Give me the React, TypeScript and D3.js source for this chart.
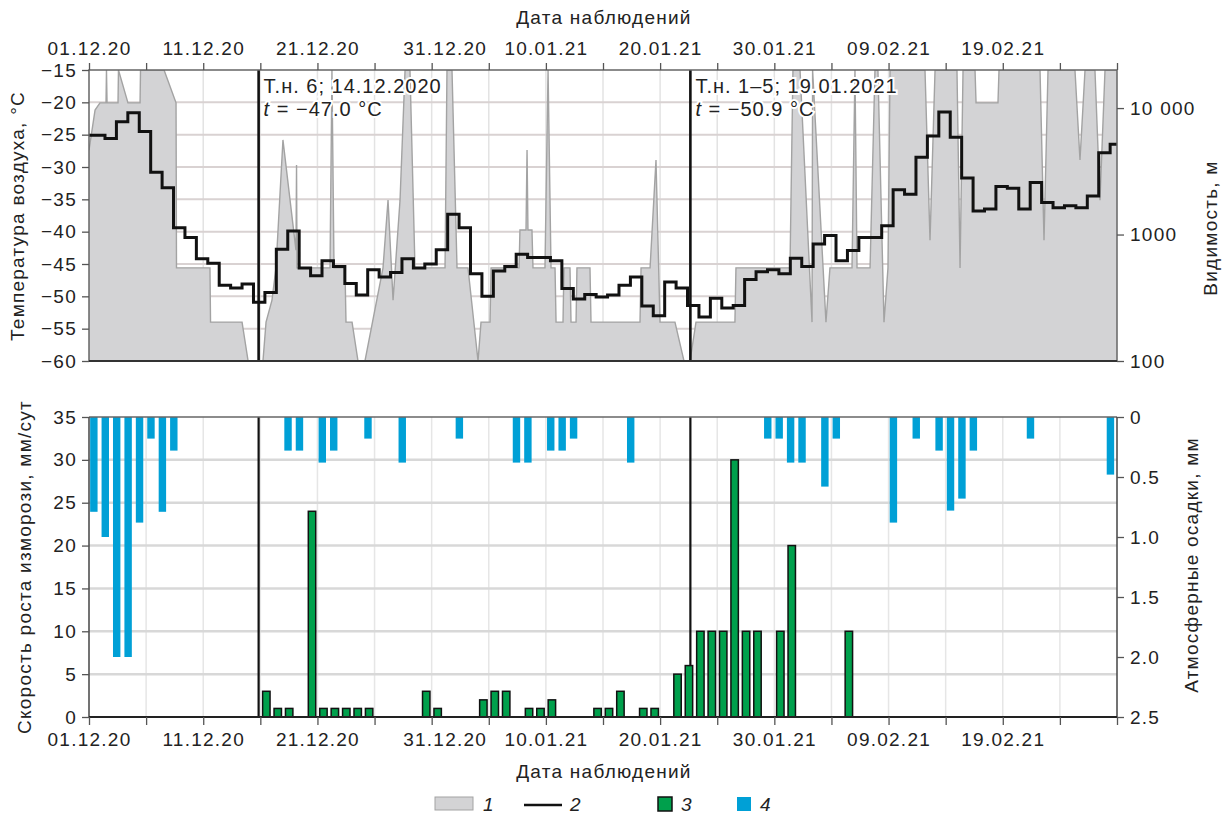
import React, { useEffect, useRef } from "react";
import * as d3 from "d3";

// days are counted from 01.12.2020 (day 0) to 01.03.2021 (day 90)
const dateLabels = ["01.12.20", "11.12.20", "21.12.20", "31.12.20", "10.01.21", "20.01.21", "30.01.21", "09.02.21", "19.02.21"];
const tempTicks = [-15, -20, -25, -30, -35, -40, -45, -50, -55, -60];
const visTicks = [100, 1000, 10000];
const frostTicks = [0, 5, 10, 15, 20, 25, 30, 35];
const precipTicks = [0, 0.5, 1.0, 1.5, 2.0, 2.5];

// air temperature, daily steps (first step starts at day 0, next ones at day i + 0.4)
const tempValues = [
  -25.1, -25.6, -23.0, -21.6, -24.5, -30.8, -33.2, -39.4, -40.9, -44.2,
  -44.9, -48.3, -48.7, -48.1, -50.9, -49.4, -42.7, -39.9, -45.6, -46.8,
  -44.5, -45.4, -48.0, -49.8, -45.9, -47.0, -46.3, -44.2, -45.6, -45.0,
  -42.8, -37.3, -39.4, -46.5, -50.0, -46.1, -45.4, -43.5, -44.0, -44.0,
  -44.5, -48.8, -50.4, -49.7, -50.1, -49.8, -48.3, -47.0, -51.5, -53.0,
  -47.8, -48.7, -51.4, -53.2, -50.3, -51.8, -51.4, -47.4, -46.2, -45.9,
  -46.5, -44.1, -45.4, -41.9, -40.6, -44.5, -42.9, -40.9, -40.9, -39.1,
  -33.5, -34.2, -28.5, -25.2, -21.5, -25.4, -31.7, -36.8, -36.5, -33.0,
  -33.3, -36.5, -32.4, -35.5, -36.3, -36.0, -36.3, -34.5, -27.8, -26.5,
];

// visibility, m (observation day, value)
const visDays = [
  0, 0.53, 0.96, 1.49, 1.53, 1.58, 2.54, 2.58, 3.41, 4.47,
  4.51, 6.57, 7.62, 7.66, 10.59, 10.64, 13.4, 13.93, 15.23, 15.5,
  16.02, 16.37, 16.98, 18.12, 18.17, 18.21, 21.1, 21.27, 21.45, 22.41,
  22.5, 23.03, 23.55, 24.16, 25.74, 26.18, 26.62, 27.23, 27.67, 28.1,
  28.54, 31.17, 31.34, 31.78, 32.22, 33.18, 34.06, 34.32, 35.11, 35.2,
  37.65, 37.73, 38.26, 38.35, 38.43, 38.78, 38.87, 39.92, 40.19, 40.45,
  40.8, 40.89, 41.5, 41.58, 42.11, 42.2, 42.64, 42.72, 43.86, 43.95,
  48.24, 48.33, 49.12, 49.64, 49.99, 51.3, 52.09, 52.62, 53.14, 56.55,
  56.64, 61.37, 61.63, 62.25, 63.3, 63.35, 64.52, 64.87, 66.8, 67.06,
  67.24, 68.38, 68.81, 69.07, 69.6, 69.95, 70.13, 73.19, 73.63, 74.07,
  75.99, 76.26, 76.52, 77.57, 77.66, 79.58, 79.67, 83.26, 83.61, 83.96,
  86.32, 86.76, 87.2, 88.07, 88.51, 88.95, 90,
];
const visValues = [
  4650, 9650, 11000, 11000, 20000, 11000, 11000, 20000, 11000, 11000,
  20000, 20000, 11000, 545, 545, 203, 203, 100, 100, 203,
  303, 545, 5600, 754, 3540, 545, 545, 20000, 545, 545,
  203, 203, 100, 100, 545, 1870, 303, 1870, 20000, 20000,
  545, 545, 20000, 20000, 545, 545, 100, 203, 203, 545,
  545, 1085, 1085, 4650, 1085, 1085, 545, 545, 20000, 545,
  545, 203, 203, 545, 545, 203, 203, 545, 545, 203,
  203, 545, 545, 3880, 203, 203, 100, 100, 203, 203,
  545, 545, 20000, 20000, 203, 20000, 203, 545, 545, 20000,
  545, 545, 20000, 20000, 203, 545, 20000, 20000, 900, 20000,
  20000, 545, 20000, 20000, 11000, 11000, 20000, 20000, 900, 20000,
  20000, 3880, 20000, 20000, 1870, 20000, 20000,
];

// rime growth rate, mm/day
const frostDays = [15, 16, 17, 19, 20, 21, 22, 23, 24, 29, 30, 34, 35, 36, 38, 39, 40, 44, 45, 46, 48, 49, 51, 52, 53, 54, 55, 56, 57, 58, 60, 61, 66];
const frostValues = [3, 1, 1, 24, 1, 1, 1, 1, 1, 3, 1, 2, 3, 3, 1, 1, 2, 1, 1, 3, 1, 1, 5, 6, 10, 10, 10, 30, 10, 10, 10, 20, 10];

// precipitation, mm
const precipDays = [0, 1, 2, 3, 4, 5, 6, 7, 17, 18, 20, 21, 24, 27, 32, 37, 38, 40, 41, 42, 47, 59, 60, 61, 62, 64, 65, 70, 72, 74, 75, 76, 77, 82, 89];
const precipValues = [0.79, 1.0, 2.0, 2.0, 0.88, 0.18, 0.79, 0.28, 0.28, 0.28, 0.38, 0.28, 0.18, 0.38, 0.18, 0.38, 0.38, 0.28, 0.28, 0.18, 0.38, 0.18, 0.18, 0.38, 0.38, 0.58, 0.18, 0.88, 0.18, 0.28, 0.78, 0.68, 0.28, 0.18, 0.48];

const eventDays = [14.85, 52.65];
const eventTitles = ["Т.н. 6; 14.12.2020", "Т.н. 1–5; 19.01.2021"];
const eventTemps = ["−47.0", "−50.9"];

const FONT = "'Liberation Sans', Arial, Helvetica, sans-serif";
const LS = 1.25;

export default function App() {
  const ref = useRef<SVGSVGElement>(null);

  useEffect(() => {
    const svg = d3.select(ref.current);
    svg.selectAll("*").remove();
    svg.attr("font-family", FONT);

    const L = 89, R = 1117;
    const x = d3.scaleLinear().domain([0, 90]).range([L, R]);
    const yT = d3.scaleLinear().domain([-60, -15]).range([361, 70]);
    const yV = d3.scaleLog().domain([100, 20000]).range([361, 70]).clamp(true);
    const yF = d3.scaleLinear().domain([0, 35]).range([717, 417]);
    const yP = d3.scaleLinear().domain([0, 2.5]).range([417, 717]);

    svg.append("defs").append("clipPath").attr("id", "clipTop")
      .append("rect").attr("x", L).attr("y", yT(-15)).attr("width", R - L).attr("height", yT(-60) - yT(-15));

    const fives = d3.range(5, 90, 5);
    const label = (sel: d3.Selection<SVGTextElement, unknown, null, undefined>, size = 19) =>
      sel.attr("font-size", size).attr("fill", "#222").attr("letter-spacing", LS);

    // ---------- top panel ----------
    const top = svg.append("g");
    top.selectAll(".vg").data(fives).join("line")
      .attr("x1", (d) => x(d)).attr("x2", (d) => x(d))
      .attr("y1", yT(-15)).attr("y2", yT(-60))
      .attr("stroke", "#e3e3e3").attr("stroke-width", 1.5);
    top.selectAll(".hg").data(tempTicks.slice(1, -1)).join("line")
      .attr("x1", L).attr("x2", R)
      .attr("y1", (d) => yT(d)).attr("y2", (d) => yT(d))
      .attr("stroke", "#d9d2d2").attr("stroke-width", 2);

    const visData = visDays.map((d, i) => ({ d, v: visValues[i] }));
    const area = d3.area<{ d: number; v: number }>()
      .x((p) => x(p.d)).y0(yT(-60)).y1((p) => yV(p.v));
    const line = d3.line<{ d: number; v: number }>()
      .x((p) => x(p.d)).y((p) => yV(p.v));
    const visG = top.append("g").attr("clip-path", "url(#clipTop)");
    visG.append("path").datum(visData).attr("d", area).attr("fill", "#d3d3d5");
    visG.append("path").datum(visData).attr("d", line)
      .attr("fill", "none").attr("stroke", "#a3a3a3").attr("stroke-width", 1.4);

    const tempData = tempValues.map((v, i) => ({ d: i === 0 ? 0 : i + 0.4, v }));
    tempData.push({ d: 90, v: tempValues[tempValues.length - 1] });
    top.append("path").datum(tempData)
      .attr("d", d3.line<{ d: number; v: number }>().x((p) => x(p.d)).y((p) => yT(p.v)).curve(d3.curveStepAfter))
      .attr("fill", "none").attr("stroke", "#111").attr("stroke-width", 3);

    eventDays.forEach((d, i) => {
      top.append("line").attr("x1", x(d)).attr("x2", x(d)).attr("y1", yT(-15)).attr("y2", yT(-60))
        .attr("stroke", "#111").attr("stroke-width", 2.6);
      const tx = x(d) + 5;
      top.append("text").attr("x", tx).attr("y", 93).attr("font-size", 20).attr("fill", "#222").attr("letter-spacing", 1)
        .attr("stroke", "#fff").attr("stroke-width", 4).attr("paint-order", "stroke")
        .text(eventTitles[i]);
      const t2 = top.append("text").attr("x", tx).attr("y", 116).attr("font-size", 20).attr("fill", "#222").attr("letter-spacing", 1)
        .attr("stroke", "#fff").attr("stroke-width", 4).attr("paint-order", "stroke");
      t2.append("tspan").attr("font-style", "italic").text("t");
      t2.append("tspan").text(` = ${eventTemps[i]} °C`);
    });

    // frame
    top.append("rect").attr("x", L).attr("y", yT(-15)).attr("width", R - L).attr("height", yT(-60) - yT(-15))
      .attr("fill", "none").attr("stroke", "#666").attr("stroke-width", 1.5);
    top.append("line").attr("x1", L).attr("x2", R).attr("y1", yT(-60)).attr("y2", yT(-60))
      .attr("stroke", "#333").attr("stroke-width", 2);

    const styleAxis = (g: d3.Selection<SVGGElement, unknown, null, undefined>) => {
      g.select(".domain").remove();
      g.selectAll(".tick line").attr("stroke", "#555").attr("stroke-width", 1.3);
      g.selectAll(".tick text").attr("font-size", 19).attr("fill", "#222").attr("font-family", FONT).attr("letter-spacing", LS);
    };
    const dateFormat = (d: d3.NumberValue) => {
      const n = Number(d);
      return n % 10 === 0 && dateLabels[n / 10] ? dateLabels[n / 10] : "";
    };

    const axTop = top.append("g").attr("transform", `translate(0,${yT(-15)})`)
      .call(d3.axisTop(x).tickValues(d3.range(0, 91, 5)).tickSize(7).tickPadding(8).tickFormat(dateFormat));
    styleAxis(axTop);
    axTop.selectAll<SVGTextElement, number>(".tick text").attr("dx", (d) => (d === 30 ? 13 : 0));

    const axLeftT = top.append("g").attr("transform", `translate(${L},0)`)
      .call(d3.axisLeft(yT).tickValues(tempTicks).tickSize(7).tickPadding(5).tickFormat((d) => d3.format("")(d as number).replace("-", "−")));
    styleAxis(axLeftT);

    const axRightT = top.append("g").attr("transform", `translate(${R},0)`)
      .call(d3.axisRight(yV).tickValues(visTicks).tickSize(7).tickPadding(6).tickFormat((d) => (d === 10000 ? "10 000" : String(d))));
    styleAxis(axRightT);

    label(svg.append("text").attr("x", 604).attr("y", 24).attr("text-anchor", "middle")).text("Дата наблюдений");
    label(svg.append("text").attr("transform", "translate(24,216) rotate(-90)").attr("text-anchor", "middle"))
      .text("Температура воздуха, °C");
    label(svg.append("text").attr("transform", "translate(1217,228) rotate(-90)").attr("text-anchor", "middle"))
      .text("Видимость, м");

    // ---------- bottom panel ----------
    const bot = svg.append("g");
    bot.selectAll(".vg").data(fives).join("line")
      .attr("x1", (d) => x(d)).attr("x2", (d) => x(d))
      .attr("y1", yF(35)).attr("y2", yF(0))
      .attr("stroke", "#e6e6e6").attr("stroke-width", 1.5);
    bot.selectAll(".hg").data(frostTicks.slice(1, -1)).join("line")
      .attr("x1", L).attr("x2", R)
      .attr("y1", (d) => yF(d)).attr("y2", (d) => yF(d))
      .attr("stroke", "#d8d8d8").attr("stroke-width", 2.5);

    bot.selectAll(".pb").data(precipDays).join("rect")
      .attr("x", (d) => x(d + 0.1)).attr("width", x(0.65) - x(0))
      .attr("y", yP(0)).attr("height", (_, i) => yP(precipValues[i]) - yP(0))
      .attr("fill", "#00a0d6");

    eventDays.forEach((d) => {
      bot.append("line").attr("x1", x(d)).attr("x2", x(d)).attr("y1", yF(35)).attr("y2", yF(0))
        .attr("stroke", "#111").attr("stroke-width", 2.2);
    });

    bot.selectAll(".fb").data(frostDays).join("rect")
      .attr("x", (d) => x(d + 0.2)).attr("width", x(0.65) - x(0))
      .attr("y", (_, i) => yF(frostValues[i])).attr("height", (_, i) => yF(0) - yF(frostValues[i]))
      .attr("fill", "#00a04c").attr("stroke", "#111").attr("stroke-width", 1.5);

    bot.append("line").attr("x1", L).attr("x2", R).attr("y1", yF(35)).attr("y2", yF(35)).attr("stroke", "#666").attr("stroke-width", 1.5);
    bot.append("line").attr("x1", L).attr("x2", L).attr("y1", yF(35)).attr("y2", yF(0)).attr("stroke", "#444").attr("stroke-width", 1.5);
    bot.append("line").attr("x1", R).attr("x2", R).attr("y1", yF(35)).attr("y2", yF(0)).attr("stroke", "#444").attr("stroke-width", 1.5);
    bot.append("line").attr("x1", L).attr("x2", R).attr("y1", yF(0)).attr("y2", yF(0)).attr("stroke", "#222").attr("stroke-width", 2);

    const axBottom = bot.append("g").attr("transform", `translate(0,${yF(0)})`)
      .call(d3.axisBottom(x).tickValues(d3.range(0, 91, 5)).tickSize(8).tickPadding(8).tickFormat(dateFormat));
    styleAxis(axBottom);
    axBottom.selectAll<SVGTextElement, number>(".tick text").attr("dx", (d) => (d === 30 ? 13 : 0));

    const axLeftB = bot.append("g").attr("transform", `translate(${L},0)`)
      .call(d3.axisLeft(yF).tickValues(frostTicks).tickSize(7).tickPadding(5));
    styleAxis(axLeftB);

    const axRightB = bot.append("g").attr("transform", `translate(${R},0)`)
      .call(d3.axisRight(yP).tickValues(precipTicks).tickSize(7).tickPadding(6).tickFormat((d) => (d === 0 ? "0" : d3.format(".1f")(d as number))));
    styleAxis(axRightB);

    label(svg.append("text").attr("x", 604).attr("y", 778).attr("text-anchor", "middle")).text("Дата наблюдений");
    label(svg.append("text").attr("transform", "translate(31,567) rotate(-90)").attr("text-anchor", "middle"))
      .text("Скорость роста изморози, мм/сут");
    label(svg.append("text").attr("transform", "translate(1198,565) rotate(-90)").attr("text-anchor", "middle"))
      .text("Атмосферные осадки, мм");

    // ---------- legend ----------
    const leg = svg.append("g").attr("font-size", 19).attr("font-style", "italic").attr("fill", "#222");
    leg.append("rect").attr("x", 435).attr("y", 797).attr("width", 38).attr("height", 13).attr("fill", "#d3d3d5").attr("stroke", "#a3a3a3");
    leg.append("text").attr("x", 483).attr("y", 811).text("1");
    leg.append("line").attr("x1", 524).attr("x2", 562).attr("y1", 805).attr("y2", 805).attr("stroke", "#111").attr("stroke-width", 2.5);
    leg.append("text").attr("x", 570).attr("y", 811).text("2");
    leg.append("rect").attr("x", 658).attr("y", 797).attr("width", 14).attr("height", 14).attr("fill", "#00a04c").attr("stroke", "#111").attr("stroke-width", 1.5);
    leg.append("text").attr("x", 681).attr("y", 811).text("3");
    leg.append("rect").attr("x", 737).attr("y", 797).attr("width", 14).attr("height", 14).attr("fill", "#00a0d6");
    leg.append("text").attr("x", 760).attr("y", 811).text("4");
  }, []);

  return (
    <svg ref={ref} width={1227} height={814} style={{ position: "absolute", left: 0, top: 0, background: "#fff" }} />
  );
}
